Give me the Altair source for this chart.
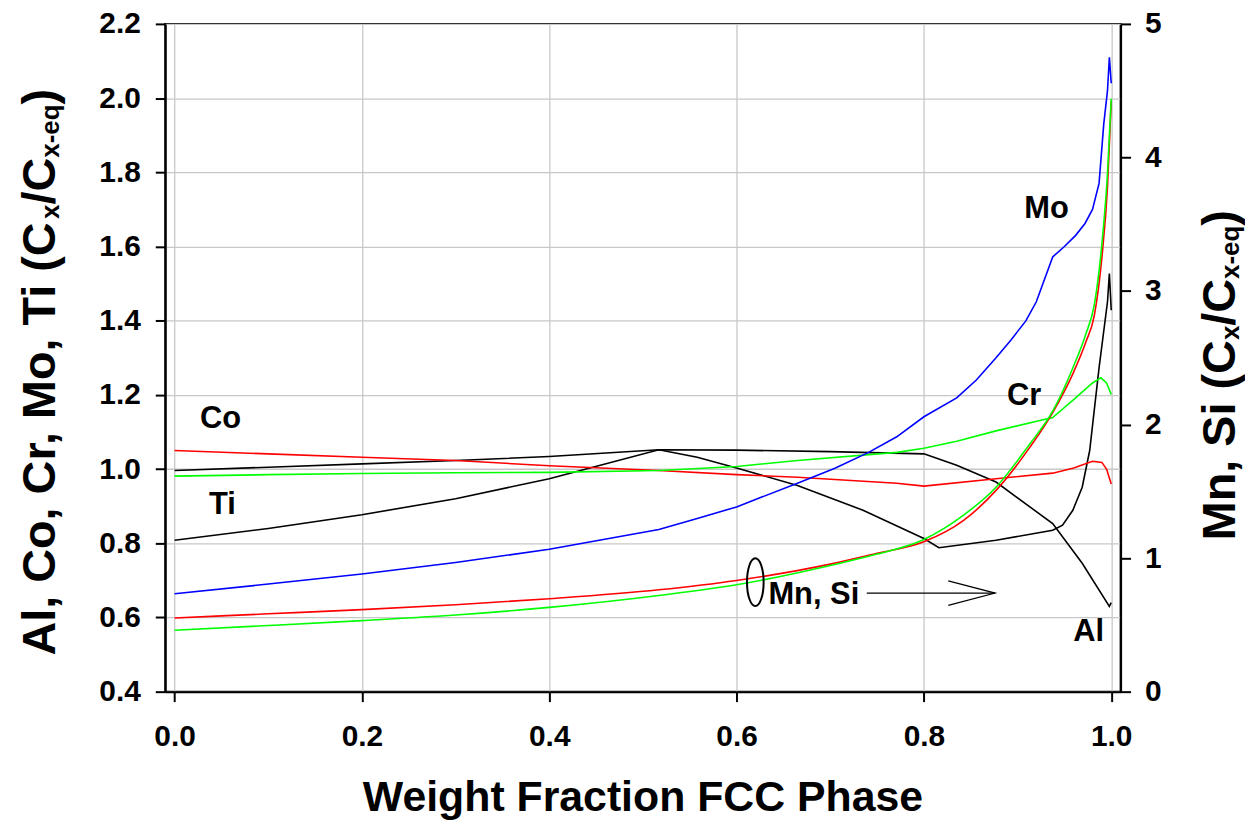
import altair as alt
import pandas as pd

FONT = "Liberation Sans"

# ---------------- data ----------------
# left axis series (Al, Co, Cr, Mo, Ti)
al_x = [0.0, 0.1, 0.2, 0.3, 0.4, 0.517, 0.6, 0.7, 0.8, 0.835, 0.877, 0.9375, 0.969, 0.998, 1.0]
al_y = [0.996, 1.005, 1.014, 1.023, 1.034, 1.052, 1.051, 1.047, 1.041, 1.010, 0.965, 0.853, 0.746, 0.630, 0.640]

ti_x = [0.0, 0.1, 0.2, 0.3, 0.4, 0.517, 0.558, 0.6, 0.665, 0.735, 0.8, 0.816, 0.877, 0.9375,
        0.948, 0.959, 0.969, 0.977, 0.983, 0.987, 0.996, 0.998, 1.0]
ti_y = [0.808, 0.840, 0.877, 0.920, 0.974, 1.052, 1.032, 1.003, 0.956, 0.889, 0.813, 0.788, 0.808, 0.835,
        0.849, 0.889, 0.951, 1.050, 1.184, 1.273, 1.451, 1.527, 1.428]

co_x = [0.0, 0.1, 0.2, 0.3, 0.4, 0.517, 0.6, 0.665, 0.771, 0.8, 0.877, 0.9375, 0.96, 0.98, 0.99, 0.995, 1.0]
co_y = [1.050, 1.041, 1.032, 1.023, 1.009, 0.996, 0.985, 0.978, 0.962, 0.954, 0.974, 0.989, 1.003, 1.021, 1.018, 1.000, 0.960]

cr_x = [0.0, 0.1, 0.2, 0.3, 0.4, 0.517, 0.6, 0.665, 0.771, 0.8, 0.835, 0.877, 0.9375, 0.962, 0.98, 0.989, 0.995, 1.0]
cr_y = [0.981, 0.985, 0.988, 0.990, 0.991, 0.996, 1.007, 1.023, 1.045, 1.056, 1.075, 1.103, 1.139, 1.192, 1.232, 1.246, 1.232, 1.201]

mo_x = [0.0, 0.1, 0.2, 0.3, 0.4, 0.517, 0.558, 0.6, 0.665, 0.705, 0.741, 0.771, 0.8, 0.835, 0.856, 0.877, 0.893,
        0.909, 0.92, 0.9375, 0.95, 0.962, 0.972, 0.98, 0.987, 0.992, 0.996, 0.998, 1.0]
mo_y = [0.664, 0.690, 0.717, 0.748, 0.784, 0.837, 0.867, 0.898, 0.962, 1.002, 1.045, 1.087, 1.141, 1.192, 1.240, 1.300, 1.348,
        1.400, 1.451, 1.572, 1.600, 1.630, 1.662, 1.700, 1.770, 1.930, 2.020, 2.110, 2.040]

# right axis series (Mn, Si)
mn_x = [0.0, 0.1, 0.2, 0.3, 0.4, 0.517, 0.6, 0.7, 0.75, 0.8, 0.842, 0.877, 0.913, 0.9375, 0.959, 0.973, 0.982, 0.99, 0.996, 1.0]
mn_y = [0.552, 0.583, 0.614, 0.651, 0.696, 0.763, 0.833, 0.955, 1.036, 1.122, 1.280, 1.507, 1.829, 2.090, 2.380, 2.620, 2.820, 3.250, 3.780, 4.420]

si_x = [0.0, 0.1, 0.2, 0.3, 0.4, 0.517, 0.6, 0.7, 0.75, 0.8, 0.842, 0.877, 0.913, 0.9375, 0.959, 0.973, 0.982, 0.99, 0.996, 1.0]
si_y = [0.460, 0.495, 0.532, 0.574, 0.631, 0.720, 0.800, 0.945, 1.030, 1.140, 1.320, 1.531, 1.854, 2.100, 2.424, 2.680, 2.900, 3.350, 3.880, 4.440]

# curve labels (left axis units)
lbl_text = ["Co", "Ti", "Mo", "Cr", "Al"]
lbl_x = [0.049, 0.051, 0.931, 0.907, 0.976]
lbl_y = [1.135, 0.902, 1.700, 1.198, 0.561]

# Mn, Si annotation (right axis units)
mnsi_text = ["Mn, Si"]
mnsi_x = [0.634]
mnsi_y = [0.725]
ellipse_x = [0.620]
ellipse_y = [0.82]
arrow_x = [0.739, 0.876, 0.826, 0.876, 0.826]
arrow_y = [0.738, 0.738, 0.830, 0.738, 0.646]
arrow_part = ["shaft", "shaft", "head", "head", "head"]

x_ticks = [0.0, 0.2, 0.4, 0.6, 0.8, 1.0]
left_ticks = [0.4, 0.6, 0.8, 1.0, 1.2, 1.4, 1.6, 1.8, 2.0, 2.2]
right_ticks = [0, 1, 2, 3, 4, 5]

series_names = ["Al", "Ti", "Co", "Cr", "Mo", "Mn", "Si"]
series_colors = ["#000000", "#000000", "#ff0000", "#00ff00", "#0000ff", "#ff0000", "#00ff00"]


def frame(name, xs, ys):
    return pd.DataFrame({"series": name, "x": xs, "y": ys, "i": list(range(len(xs)))})


left_df = pd.concat([frame("Al", al_x, al_y), frame("Ti", ti_x, ti_y), frame("Co", co_x, co_y),
                     frame("Cr", cr_x, cr_y), frame("Mo", mo_x, mo_y)], ignore_index=True)
right_df = pd.concat([frame("Mn", mn_x, mn_y), frame("Si", si_x, si_y)], ignore_index=True)
lbl_df = pd.DataFrame({"t": lbl_text, "x": lbl_x, "y": lbl_y})
mnsi_df = pd.DataFrame({"t": mnsi_text, "x": mnsi_x, "y": mnsi_y})
ell_df = pd.DataFrame({"x": ellipse_x, "y": ellipse_y})
arrow_df = pd.DataFrame({"x": arrow_x, "y": arrow_y, "part": arrow_part, "i": list(range(len(arrow_x)))})

W, H = 960, 671

x_scale = alt.Scale(domain=[-0.01, 1.01], nice=False, zero=False)
yl_scale = alt.Scale(domain=[0.4, 2.2], nice=False, zero=False)
yr_scale = alt.Scale(domain=[0, 5], nice=False, zero=False)
color_scale = alt.Scale(domain=series_names, range=series_colors)

x_axis = alt.Axis(values=x_ticks, format=".1f", title=None, grid=True, orient="bottom",
                  labelBaseline="alphabetic", labelPadding=44)
yl_axis = alt.Axis(values=left_ticks, format=".1f", title=None, grid=True, orient="left", labelPadding=15)
yr_axis = alt.Axis(values=right_ticks, format="d", title=None, grid=False, orient="right", labelPadding=14)

X = alt.X("x:Q", scale=x_scale, axis=x_axis)
YL = alt.Y("y:Q", scale=yl_scale, axis=yl_axis)
YR = alt.Y("y:Q", scale=yr_scale, axis=yr_axis)

left_lines = alt.Chart(left_df).mark_line(strokeWidth=1.6).encode(
    x=X, y=YL,
    color=alt.Color("series:N", scale=color_scale, legend=None),
    detail="series:N", order="i:Q")

left_labels = alt.Chart(lbl_df).mark_text(font=FONT, fontWeight="bold", fontSize=31, color="black",
                                          align="center", baseline="middle").encode(x=X, y=YL, text="t:N")

right_lines = alt.Chart(right_df).mark_line(strokeWidth=1.6, interpolate="monotone").encode(
    x=X, y=YR,
    color=alt.Color("series:N", scale=color_scale, legend=None),
    detail="series:N", order="i:Q")

mnsi_label = alt.Chart(mnsi_df).mark_text(font=FONT, fontWeight="bold", fontSize=31, color="black",
                                          align="left", baseline="middle").encode(x=X, y=YR, text="t:N")

ellipse_path = "M0,-1 A0.348,1 0 1,1 0,1 A0.348,1 0 1,1 0,-1 Z"
ellipse = alt.Chart(ell_df).mark_point(shape=ellipse_path, size=2304, filled=False, strokeWidth=2,
                                       color="black", opacity=1).encode(x=X, y=YR)

arrow = alt.Chart(arrow_df).mark_line(color="black", strokeWidth=1.2).encode(
    x=X, y=YR, detail="part:N", order="i:Q")

# ---------------- axis titles with subscripts ----------------
CW = {'A': 722, 'l': 278, ',': 278, ' ': 278, 'C': 722, 'o': 611, 'r': 389, 'M': 833, 'T': 611,
      'i': 278, '(': 333, ')': 333, '/': 278, 'x': 556, '-': 333, 'e': 556, 'q': 611, 'n': 611, 'S': 667}


def tw(s, fs):
    return sum(CW[c] for c in s) / 1000.0 * fs


one_row = pd.DataFrame({"k": [0]})


def vertical_title(pieces, base_x, center_y, main_fs, sub_fs, shift):
    total = sum(tw(s, sub_fs if sub else main_fs) for s, sub in pieces)
    y = center_y + total / 2.0
    marks = []
    for s, sub in pieces:
        fs = sub_fs if sub else main_fs
        m = alt.Chart(one_row).mark_text(text=s, font=FONT, fontWeight="bold", fontSize=fs, color="black",
                                         angle=270, align="left", baseline="alphabetic").encode(
            x=alt.value(base_x + (shift if sub else 0)), y=alt.value(y))
        marks.append(m)
        y -= tw(s, fs)
    return marks


left_title = vertical_title([("Al, Co, Cr, Mo, Ti (C", False), ("x", True), ("/C", False),
                             ("x-eq", True), (")", False)],
                            base_x=-111, center_y=350, main_fs=47, sub_fs=26, shift=4)
right_title = vertical_title([("Mn, Si (C", False), ("x", True), ("/C", False),
                              ("x-eq", True), (")", False)],
                             base_x=1075, center_y=353, main_fs=47, sub_fs=26, shift=4)

x_title = alt.Chart(one_row).mark_text(text="Weight Fraction FCC Phase", font=FONT, fontWeight="bold",
                                       fontSize=43, color="black", align="center",
                                       baseline="alphabetic").encode(x=alt.value(W / 2), y=alt.value(791))

left_layer = alt.layer(left_lines, left_labels, x_title, *left_title)
right_layer = alt.layer(right_lines, arrow, ellipse, mnsi_label, *right_title)

chart = alt.layer(left_layer, right_layer).resolve_scale(y="independent").properties(
    width=W, height=H,
    autosize=alt.AutoSizeParams(type="none"),
    padding={"left": 158, "top": 14, "right": 125, "bottom": 131},
).configure_view(stroke="black", strokeWidth=2).configure_axis(
    domainColor="black", domainWidth=2, tickColor="black", tickWidth=2, tickSize=10,
    labelFont=FONT, labelFontWeight="bold", labelFontSize=30, labelColor="black",
    gridColor="#c8c8c8", gridWidth=1.3,
)

chart.save("out.html", embed_options={"renderer": "svg", "actions": False})
